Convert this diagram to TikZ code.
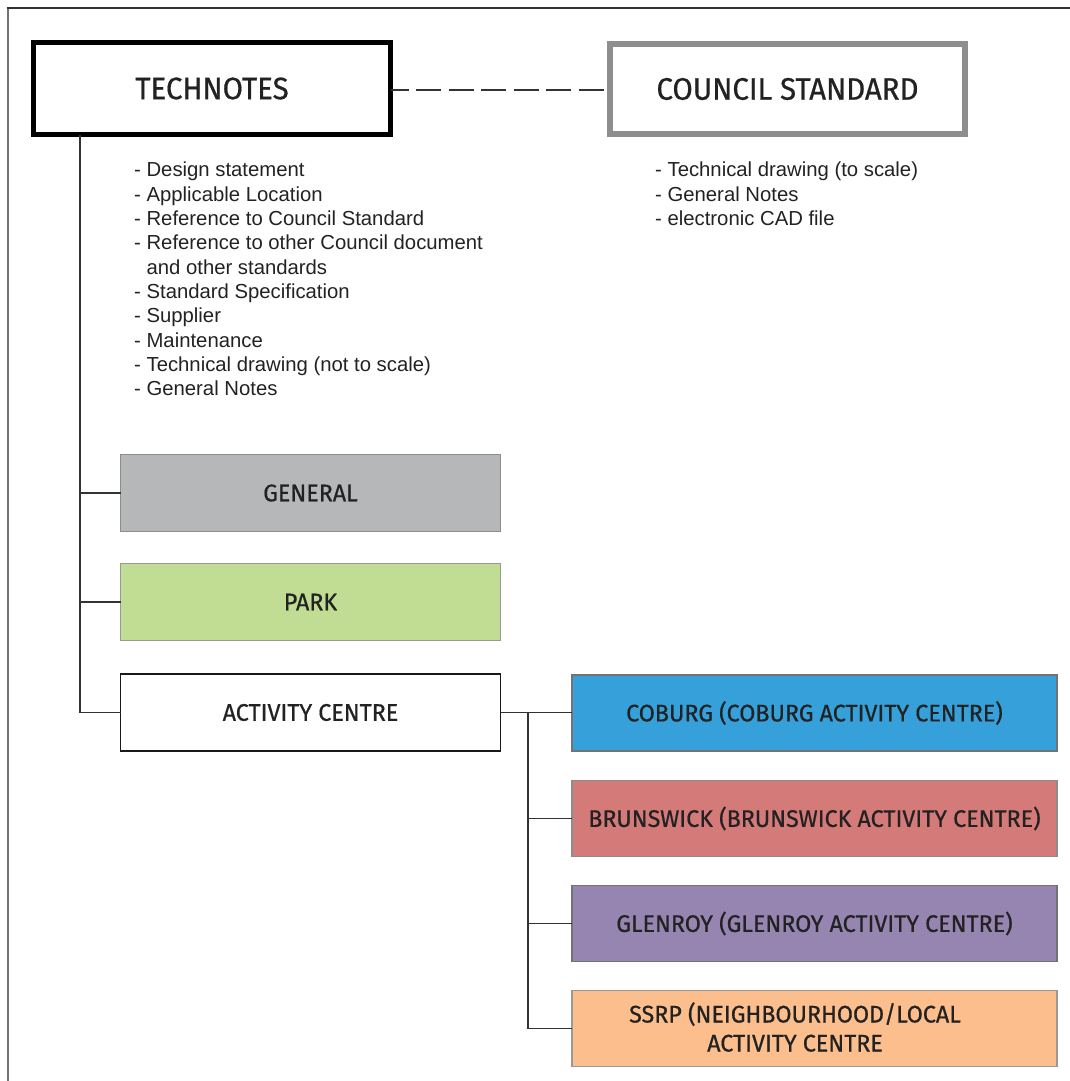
\documentclass[tikz,border=0pt]{standalone}
\usepackage{fontspec}
\setmainfont{Liberation Sans}
\newfontfamily\dinfont[FakeStretch=0.95, FakeBold=0.6]{Fira Sans}
\newfontfamily\labfont[FakeStretch=0.97, FakeBold=0.6]{Fira Sans}
\definecolor{txt}{HTML}{222222}
\definecolor{linec}{HTML}{333333}
\definecolor{cgeneral}{HTML}{B6B7B9}
\definecolor{cpark}{HTML}{C1DD93}
\definecolor{ccoburg}{HTML}{36A0DA}
\definecolor{cbruns}{HTML}{D47A78}
\definecolor{cglen}{HTML}{9685B0}
\definecolor{cssrp}{HTML}{FBBE8C}
\definecolor{cstd}{HTML}{8E8E8E}
\tikzset{
  titlebox/.style={draw, rectangle, fill=white, text=txt, inner sep=0pt, outer sep=0pt,
    font=\dinfont\fontsize{31}{36}\selectfont},
  catbox/.style={draw, rectangle, inner sep=0pt, outer sep=0pt, line width=1.3pt, text=txt,
    font=\labfont\fontsize{24}{29}\selectfont, minimum width=380pt, minimum height=77pt},
  subbox/.style={catbox, minimum width=485pt, minimum height=76pt},
  listtext/.style={anchor=north west, inner sep=0pt, align=left, text=txt,
    font=\fontsize{20.3}{24.3}\selectfont},
  conn/.style={draw=linec, line width=1.8pt},
}
\begin{document}
\begin{tikzpicture}[x=1pt,y=-1pt]
\useasboundingbox (0,0) rectangle (1070,1081);
% outer frame (cropped)
\draw[draw=black!80, line width=1.5pt] (8,1081) -- (8,8) -- (1070,8);
\draw[draw=black!55, line width=2pt] (8,1081) -- (8,9);

% title boxes
\node[titlebox, line width=5pt, minimum width=357pt, minimum height=92pt] (tech) at (212,88.5) {TECHNOTES};
\node[titlebox, draw=cstd, line width=6pt, minimum width=355pt, minimum height=90pt] (std) at (787.5,89) {COUNCIL STANDARD};
\draw[conn, dash pattern=on 25pt off 7.5pt, dash phase=7pt] (tech.east |- 0,90) -- (std.west |- 0,90);

% lists
\node[listtext] (techlist) at (134,162) {- Design statement\\
- Applicable Location\\
- Reference to Council Standard\\
- Reference to other Council document\\
\phantom{- }and other standards\\
- Standard Specification\\
- Supplier\\
- Maintenance\\
- Technical drawing (not to scale)\\
- General Notes};
\node[listtext] (stdlist) at (655,162) {- Technical drawing (to scale)\\
- General Notes\\
- electronic CAD file};

% categories
\node[catbox, fill=cgeneral, draw=black!45] (general) at (310.5,493) {GENERAL};
\node[catbox, fill=cpark, draw=black!40] (park) at (310.5,602) {PARK};
\node[catbox, fill=white, draw=black!90, line width=1.8pt] (act) at (310.5,712.5) {ACTIVITY CENTRE};

\coordinate (trunk) at (80,0);
\draw[conn] (tech.south -| trunk) |- (act.west);
\draw[conn] (tech.south -| trunk) |- (general.west);
\draw[conn] (tech.south -| trunk) |- (park.west);

% activity centres
\node[subbox, fill=ccoburg, draw=black!55] (coburg) at (814.5,713) {COBURG (COBURG ACTIVITY CENTRE)};
\node[subbox, fill=cbruns, draw=black!45] (bruns) at (814.5,818.5) {BRUNSWICK (BRUNSWICK ACTIVITY CENTRE)};
\node[subbox, fill=cglen, draw=black!55] (glen) at (814.5,923.5) {GLENROY (GLENROY ACTIVITY CENTRE)};
\node[subbox, fill=cssrp, draw=black!40] (ssrp) at (814.5,1028.5) {};
\node[text=txt, font=\labfont\fontsize{24}{29}\selectfont, align=center, inner sep=0pt] (ssrptext) at (795,1027) {SSRP (NEIGHBOURHOOD/LOCAL\\ACTIVITY CENTRE};

\coordinate (sub) at (528,0);
\draw[conn] (act.east) -- (act.east -| coburg.west);
\draw[conn] (act.east -| sub) |- (bruns.west);
\draw[conn] (act.east -| sub) |- (glen.west);
\draw[conn] (act.east -| sub) |- (ssrp.west);
\end{tikzpicture}
\end{document}
